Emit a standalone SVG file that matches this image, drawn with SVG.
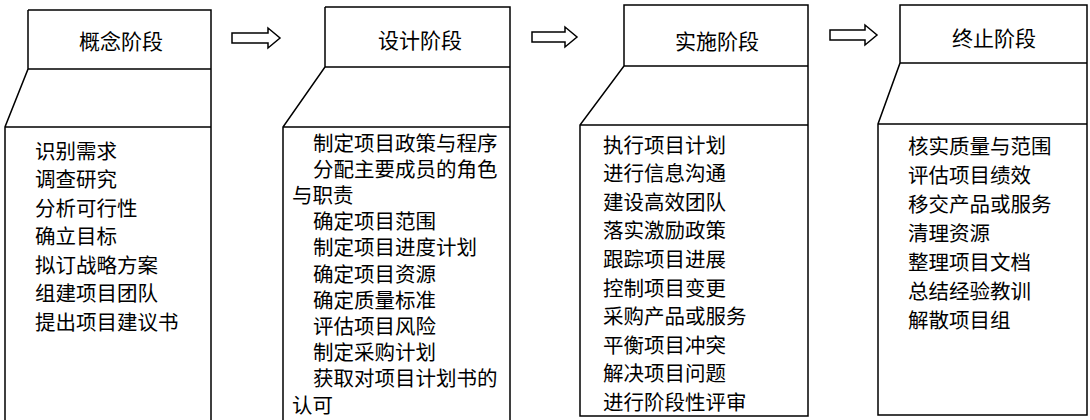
<svg xmlns="http://www.w3.org/2000/svg" width="1090" height="420" viewBox="0 0 1090 420">
<style>
.box{fill:none;stroke:#000;stroke-width:1.5}
.arrow{fill:#fff;stroke:#000;stroke-width:1.5;stroke-linejoin:miter}
.h{font-family:"Noto Sans CJK SC",sans-serif;font-size:21px;fill:#000;text-anchor:middle;dominant-baseline:central}
.t{font-family:"Liberation Sans","Noto Sans CJK SC",sans-serif;font-size:20.5px;fill:#000;dominant-baseline:central}
</style>
<rect width="1090" height="420" fill="#fff"/>
<g id="phase-concept">
<path class="box" d="M28,10 H211 V423 M28,10 V69 L5,127 V423 M28,69 H211 M5,127 H211"/>
<text class="h" x="121" y="40">概念阶段</text>
<text class="t" x="35" y="151">识别需求</text>
<text class="t" x="35" y="179.5">调查研究</text>
<text class="t" x="35" y="208">分析可行性</text>
<text class="t" x="35" y="236.5">确立目标</text>
<text class="t" x="35" y="265">拟订战略方案</text>
<text class="t" x="35" y="293.5">组建项目团队</text>
<text class="t" x="35" y="322">提出项目建议书</text>
</g>
<g id="phase-design">
<path class="box" d="M325,7 H510 V423 M325,7 V67 L283,127 V423 M325,67 H510 M283,127 H510"/>
<text class="h" x="420" y="39">设计阶段</text>
<text class="t" x="313" y="143">制定项目政策与程序</text>
<text class="t" x="313" y="169.2">分配主要成员的角色</text>
<text class="t" x="292" y="195.4">与职责</text>
<text class="t" x="313" y="221.6">确定项目范围</text>
<text class="t" x="313" y="247.8">制定项目进度计划</text>
<text class="t" x="313" y="274">确定项目资源</text>
<text class="t" x="313" y="300.2">确定质量标准</text>
<text class="t" x="313" y="326.4">评估项目风险</text>
<text class="t" x="313" y="352.6">制定采购计划</text>
<text class="t" x="313" y="378.8">获取对项目计划书的</text>
<text class="t" x="292" y="405">认可</text>
</g>
<g id="phase-execution">
<path class="box" d="M624,5 H808 V416 H580 V125 L624,66 Z M624,66 H808 M580,125 H808"/>
<text class="h" x="717" y="40">实施阶段</text>
<text class="t" x="603" y="145">执行项目计划</text>
<text class="t" x="603" y="173.6">进行信息沟通</text>
<text class="t" x="603" y="202.2">建设高效团队</text>
<text class="t" x="603" y="230.8">落实激励政策</text>
<text class="t" x="603" y="259.4">跟踪项目进展</text>
<text class="t" x="603" y="288">控制项目变更</text>
<text class="t" x="603" y="316.6">采购产品或服务</text>
<text class="t" x="603" y="345.2">平衡项目冲突</text>
<text class="t" x="603" y="373.8">解决项目问题</text>
<text class="t" x="603" y="402.4">进行阶段性评审</text>
</g>
<g id="phase-closure">
<path class="box" d="M900,5 H1087 V415 H878 V124 L900,63 Z M900,63 H1087 M878,124 H1087"/>
<text class="h" x="994" y="37">终止阶段</text>
<text class="t" x="908" y="146">核实质量与范围</text>
<text class="t" x="908" y="175">评估项目绩效</text>
<text class="t" x="908" y="204">移交产品或服务</text>
<text class="t" x="908" y="233">清理资源</text>
<text class="t" x="908" y="262">整理项目文档</text>
<text class="t" x="908" y="291">总结经验教训</text>
<text class="t" x="908" y="320">解散项目组</text>
</g>
<g id="connectors">
<path class="arrow" d="M232,33 H268 V28 L280,38 L268,48 V43 H232 Z"/>
<path class="arrow" d="M532,32 H565 V27 L577,37 L565,47 V42 H532 Z"/>
<path class="arrow" d="M830,30 H865 V25 L877,35 L865,45 V40 H830 Z"/>
</g>
</svg>
